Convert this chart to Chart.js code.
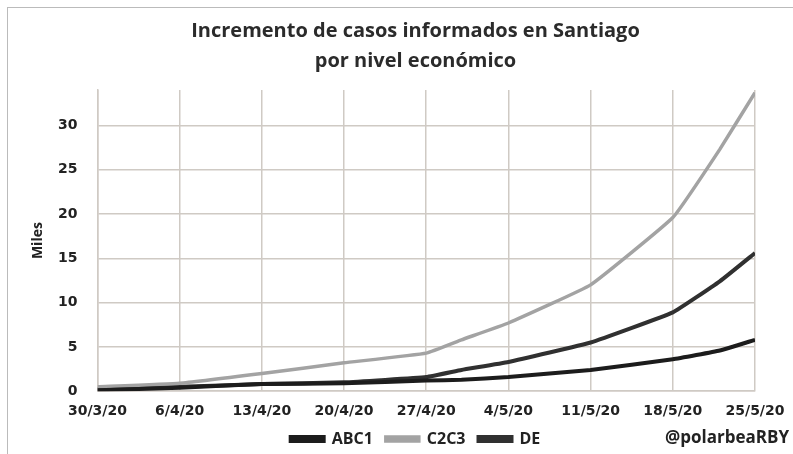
<!DOCTYPE html>
<html>
<head>
<meta charset="utf-8">
<script src="https://cdn.jsdelivr.net/npm/chart.js@4"></script>
<style>
  html, body { margin: 0; padding: 0; background: #fff; }
  #frame { position: absolute; left: 7px; top: 7px; width: 800px; height: 460px;
           border-left: 1px solid #bbb; border-top: 1px solid #bbb; }
  #wrap { position: absolute; left: 0; top: 0; width: 793px; height: 454px; }
</style>
</head>
<body>
<div id="frame"></div>
<div id="wrap"><canvas id="chart" width="793" height="454"></canvas></div>
<script>
// week labels on the x axis (one every 7 days from 30/3/20)
const tickLabels = ["30/3/20", "6/4/20", "13/4/20", "20/4/20", "27/4/20", "4/5/20", "11/5/20", "18/5/20", "25/5/20"]
// day offsets of the data points, counted from 30/3/20
const days = [0, 7, 14, 21, 28, 31, 35, 42, 49, 53, 56]

// thousands of cases (Miles)
const abc1 = [0.1, 0.4, 0.8, 0.9, 1.2, 1.3, 1.6, 2.4, 3.6, 4.6, 5.8]
const c2c3 = [0.5, 0.9, 2.0, 3.2, 4.3, 5.8, 7.7, 12.0, 19.6, 27.3, 33.7]
const de = [0.2, 0.5, 0.8, 1.0, 1.6, 2.4, 3.3, 5.5, 8.9, 12.4, 15.6]

const toPoints = vals => vals.map((v, i) => ({x: days[i], y: v}))

// y axis name and the @handle, drawn by hand so they sit where the original has them
const extras = {
  id: "extras",
  afterDraw(chart) {
    const ctx = chart.ctx
    const area = chart.chartArea
    ctx.save()
    ctx.fillStyle = "#222"
    ctx.font = "bold 17px 'Open Sans'"
    ctx.textAlign = "right"
    ctx.textBaseline = "middle"
    ctx.fillText("@polarbeaRBY", 789, 438)

    ctx.translate(38, (area.top + area.bottom) / 2)
    ctx.rotate(-Math.PI / 2)
    ctx.textAlign = "center"
    ctx.font = "bold 14px 'Open Sans'"
    ctx.fillText("Miles", 0, 0)
    ctx.restore()
  }
}

const lineDs = (label, vals, color, width) => ({
  label: label,
  data: toPoints(vals),
  borderColor: color,
  backgroundColor: color,
  borderWidth: width,
  pointRadius: 0,
  tension: 0.1
})

new Chart(document.getElementById("chart"), {
  type: "line",
  data: {
    datasets: [
      lineDs("ABC1", abc1, "#1c1c1c", 4),
      lineDs("C2C3", c2c3, "#a3a3a3", 3.5),
      lineDs("DE", de, "#303030", 4)
    ]
  },
  options: {
    responsive: false,
    animation: false,
    layout: {padding: {left: 38, right: 0, top: 6, bottom: -3}},
    plugins: {
      title: {
        display: true,
        text: ["Incremento de casos informados en Santiago", "por nivel económico"],
        color: "#2b2b2b",
        font: {family: "'Open Sans'", size: 20, weight: "bold", lineHeight: 1.5},
        padding: {top: 10, bottom: 14}
      },
      legend: {
        position: "bottom",
        labels: {
          color: "#222",
          font: {family: "'Open Sans'", size: 16, weight: "bold"},
          boxWidth: 33,
          boxHeight: 4,
          padding: 13
        }
      },
      tooltip: {enabled: false}
    },
    scales: {
      x: {
        type: "linear",
        min: 0,
        max: 56,
        afterFit: scale => {
          scale.height -= 14
          scale.paddingRight = 38
        },
        ticks: {
          stepSize: 7,
          color: "#222",
          font: {family: "'DejaVu Sans'", size: 14, weight: "bold"},
          maxRotation: 0,
          padding: 12,
          callback: v => tickLabels[v / 7]
        },
        grid: {color: "#cfcac4", lineWidth: 1.5, drawTicks: false},
        border: {color: "#cfcac4", width: 1.5}
      },
      y: {
        min: 0,
        max: 34,
        afterBuildTicks: scale => {
          scale.ticks = scale.ticks.filter(t => t.value % 5 === 0)
        },
        ticks: {
          stepSize: 5,
          color: "#222",
          font: {family: "'DejaVu Sans'", size: 14, weight: "bold"},
          padding: 20
        },
        grid: {color: "#cfcac4", lineWidth: 1.5, drawTicks: false},
        border: {color: "#cfcac4", width: 1.5}
      }
    }
  },
  plugins: [extras]
})
</script>
</body>
</html>
